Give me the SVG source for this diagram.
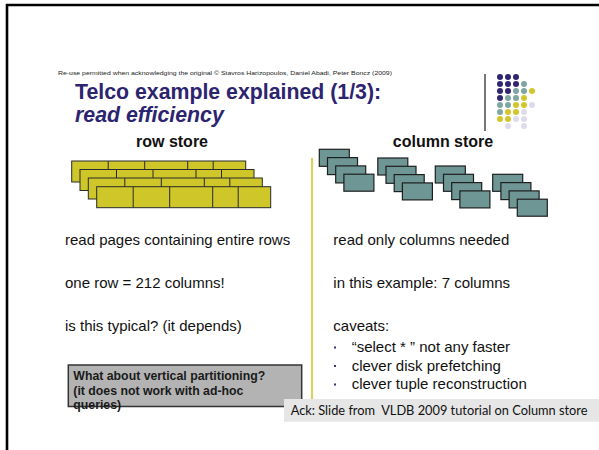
<svg xmlns="http://www.w3.org/2000/svg" width="599" height="450" viewBox="0 0 599 450">
<style>
.body{font-family:"Liberation Sans",Arial,sans-serif;font-size:15px;fill:#111}
.hdr{font-family:"Liberation Sans",Arial,sans-serif;font-size:16px;font-weight:bold;fill:#111}
.title{font-family:"Liberation Sans",Arial,sans-serif;font-size:21.3px;font-weight:bold;fill:#2d2470}
.brick{fill:#cfc62a;stroke:#2a2a2a;stroke-width:1}
.col{fill:#6e9694;stroke:#1e1e1e;stroke-width:1.2}
.pu{fill:#2f2570}.te{fill:#7ea6a2}.ye{fill:#d3c62c}.la{fill:#dcdcee}
.box{font-family:"Liberation Sans",Arial,sans-serif;font-size:12.3px;font-weight:bold;fill:#1a1a1a}
</style>
<defs>
<g id="layer">
<rect class="brick" x="0" y="0" width="174" height="21"/>
<line class="brick" x1="36.5" y1="0" x2="36.5" y2="21"/>
<line class="brick" x1="73" y1="0" x2="73" y2="21"/>
<line class="brick" x1="116" y1="0" x2="116" y2="21"/>
<line class="brick" x1="141.5" y1="0" x2="141.5" y2="21"/>
</g>
<g id="colgrp">
<rect class="col" x="0" y="0" width="30" height="17"/>
<rect class="col" x="8.2" y="8.3" width="30" height="17"/>
<rect class="col" x="16.4" y="16.6" width="30" height="17"/>
<rect class="col" x="24.6" y="24.9" width="30" height="17"/>
</g>
</defs>
<rect width="599" height="450" fill="#fff"/>
<path d="M7,450 V5 H599" fill="none" stroke="#000" stroke-width="2.6"/>
<g id="header">
<text x="58" y="75" font-family="Liberation Sans,Arial,sans-serif" font-size="5.2" fill="#222" textLength="334" lengthAdjust="spacingAndGlyphs">Re-use permitted when acknowledging the original © Stavros Harizopoulos, Daniel Abadi, Peter Boncz (2009)</text>
<text class="title" x="75" y="98.5">Telco example explained (1/3):</text>
<text class="title" x="75" y="121.5" font-style="italic">read efficiency</text>
</g>
<g id="logo">
<line x1="485" y1="74" x2="485" y2="131" stroke="#777" stroke-width="2"/>
<g transform="translate(500,77)">
<circle class="pu" cx="0" cy="0" r="3"/><circle class="pu" cx="8" cy="0" r="3"/><circle class="pu" cx="16" cy="0" r="3"/>
<circle class="pu" cx="0" cy="7" r="3"/><circle class="pu" cx="8" cy="7" r="3"/><circle class="pu" cx="16" cy="7" r="3"/><circle class="te" cx="24" cy="7" r="3"/>
<circle class="pu" cx="0" cy="14" r="3"/><circle class="pu" cx="8" cy="14" r="3"/><circle class="te" cx="16" cy="14" r="3"/><circle class="te" cx="24" cy="14" r="3"/><circle class="ye" cx="32" cy="14" r="3"/>
<circle class="pu" cx="0" cy="21" r="3"/><circle class="te" cx="8" cy="21" r="3"/><circle class="te" cx="16" cy="21" r="3"/><circle class="ye" cx="24" cy="21" r="3"/>
<circle class="te" cx="0" cy="28" r="3"/><circle class="te" cx="8" cy="28" r="3"/><circle class="ye" cx="16" cy="28" r="3"/><circle class="ye" cx="24" cy="28" r="3"/><circle class="la" cx="32" cy="28" r="3"/>
<circle class="te" cx="0" cy="35" r="3"/><circle class="ye" cx="8" cy="35" r="3"/><circle class="ye" cx="16" cy="35" r="3"/><circle class="la" cx="24" cy="35" r="3"/>
<circle class="ye" cx="0" cy="42" r="3"/><circle class="ye" cx="8" cy="42" r="3"/><circle class="la" cx="16" cy="42" r="3"/><circle class="la" cx="24" cy="42" r="3"/>
<circle class="la" cx="8" cy="49" r="3"/><circle class="la" cx="24" cy="49" r="3"/>
</g>
</g>
<g id="row-store">
<text class="hdr" x="172" y="147" text-anchor="middle">row store</text>
<use href="#layer" x="71.7" y="161"/>
<use href="#layer" x="80" y="169.5"/>
<use href="#layer" x="88.3" y="178"/>
<use href="#layer" x="96.7" y="186.7"/>
</g>
<g id="column-store">
<text class="hdr" x="443" y="147" text-anchor="middle">column store</text>
<use href="#colgrp" x="319.3" y="149.3"/>
<use href="#colgrp" x="377.8" y="158"/>
<use href="#colgrp" x="435.3" y="166"/>
<use href="#colgrp" x="492.7" y="174.3"/>
</g>
<line id="divider" x1="312" y1="158" x2="312" y2="402" stroke="#d9cf5e" stroke-width="2.2"/>
<g id="left-text">
<text class="body" x="65" y="245">read pages containing entire rows</text>
<text class="body" x="65" y="288">one row = 212 columns!</text>
<text class="body" x="65" y="331">is this typical? (it depends)</text>
</g>
<g id="right-text">
<text class="body" x="333.3" y="245">read only columns needed</text>
<text class="body" x="333.3" y="288">in this example: 7 columns</text>
<text class="body" x="333.3" y="331">caveats:</text>
<rect x="334" y="346.5" width="2" height="2" fill="#3a2f7a"/>
<rect x="334" y="365" width="2" height="2" fill="#3a2f7a"/>
<rect x="334" y="383.5" width="2" height="2" fill="#3a2f7a"/>
<text class="body" x="351.7" y="352">“select * ” not any faster</text>
<text class="body" x="351.7" y="370.5">clever disk prefetching</text>
<text class="body" x="351.7" y="389">clever tuple reconstruction</text>
</g>
<g id="note-box">
<rect x="68.3" y="365" width="233.4" height="41.5" fill="#b3b3b3" stroke="#333" stroke-width="1.5"/>
<text class="box" x="73.3" y="380">What about vertical partitioning?</text>
<text class="box" x="73.3" y="395">(it does not work with ad-hoc</text>
<text class="box" x="73.3" y="409">queries)</text>
</g>
<g id="ack">
<rect x="284" y="399" width="315" height="22.7" fill="#e6e6e6"/>
<text x="290.7" y="414.5" font-family="Lato,'Open Sans',sans-serif" font-size="12.8" fill="#111" xml:space="preserve" style="white-space:pre">Ack: Slide from  VLDB 2009 tutorial on Column store</text>
</g>
</svg>
